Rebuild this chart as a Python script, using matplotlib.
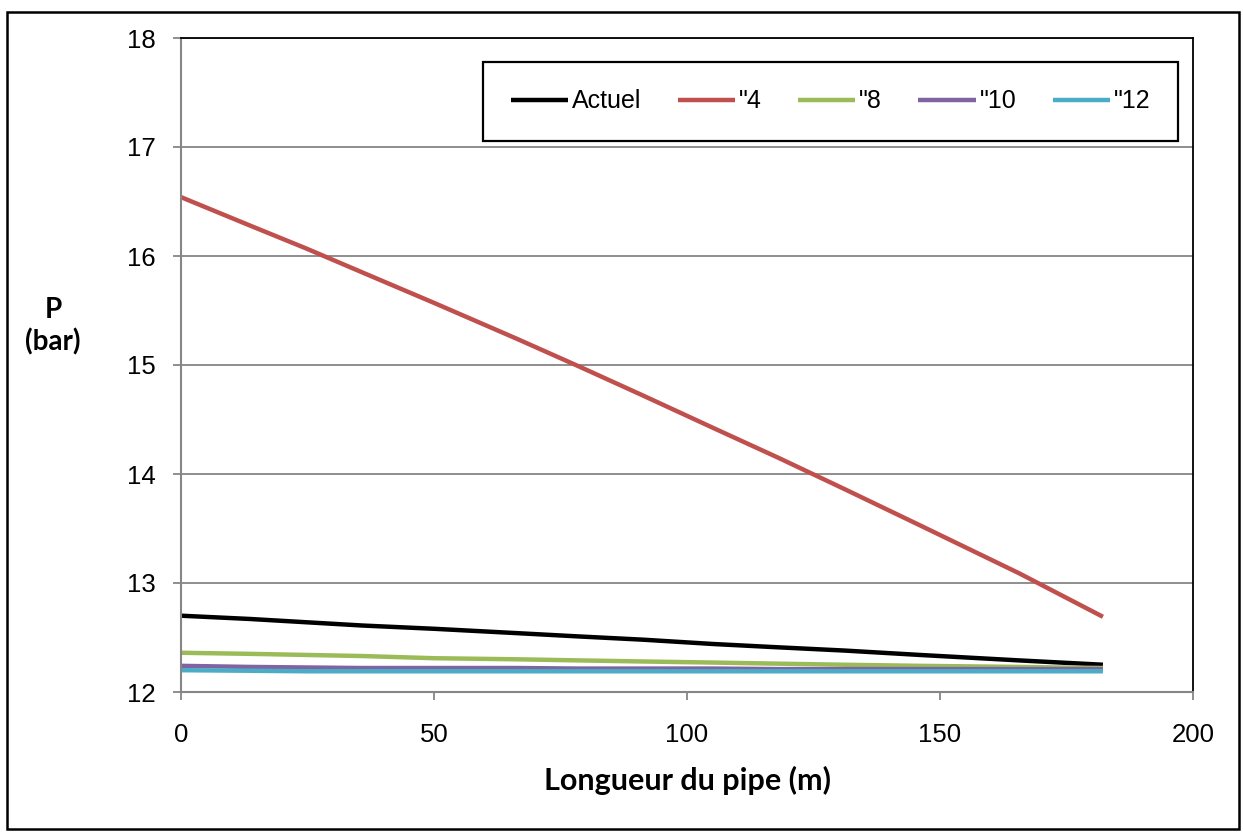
import matplotlib
matplotlib.use("Agg")
import matplotlib.pyplot as plt
from matplotlib.patches import Rectangle

# Pipe length stations (m)
longueur = [0, 13.6, 24.7, 35.8, 50, 66.4, 78.5, 91.3, 105.3, 118, 131.2, 146, 165.6, 182.2]

# Pressure along the pipe (bar) for each diameter
p_actuel = [12.70, 12.67, 12.64, 12.61, 12.58, 12.54, 12.51, 12.48, 12.44, 12.41, 12.38, 12.34, 12.29, 12.25]
p_4 = [16.54, 16.28, 16.07, 15.85, 15.57, 15.24, 14.99, 14.72, 14.42, 14.15, 13.86, 13.53, 13.09, 12.69]
p_8 = [12.36, 12.35, 12.34, 12.33, 12.31, 12.30, 12.29, 12.28, 12.27, 12.26, 12.25, 12.24, 12.23, 12.22]
p_10 = [12.24, 12.23, 12.225, 12.22, 12.22, 12.22, 12.215, 12.215, 12.215, 12.21, 12.21, 12.21, 12.21, 12.21]
p_12 = [12.20, 12.195, 12.19, 12.19, 12.19, 12.19, 12.19, 12.19, 12.19, 12.19, 12.19, 12.19, 12.19, 12.19]

labels = ["Actuel", '"4', '"8', '"10', '"12']
colors = ["#000000", "#C0504D", "#9BBB59", "#8064A2", "#4BACC6"]
series = [p_actuel, p_4, p_8, p_10, p_12]

x_ticks = [0, 50, 100, 150, 200]
y_ticks = [12, 13, 14, 15, 16, 17, 18]

plt.rcParams["font.family"] = ["Liberation Sans", "DejaVu Sans"]

W, H = 1243, 835
fig = plt.figure(figsize=(W / 100, H / 100), dpi=100)

# outer chart frame
fig.patches.append(Rectangle((7 / W, 6 / H), (1239 - 7) / W, (823 - 6) / H,
                             transform=fig.transFigure, fill=False,
                             edgecolor="black", linewidth=1.8, zorder=0))

ax = fig.add_axes([181 / W, (H - 692) / H, (1193 - 181) / W, (692 - 38) / H])

lines = []
for vals, lab, col in zip(series, labels, colors):
    ln, = ax.plot(longueur, vals, color=col, linewidth=3.2, label=lab,
                  solid_capstyle="butt", solid_joinstyle="round")
    lines.append(ln)

ax.set_xlim(0, 200)
ax.set_ylim(12, 18)
ax.set_xticks(x_ticks)
ax.set_yticks(y_ticks)
ax.set_xticklabels([str(v) for v in x_ticks])
ax.set_yticklabels([str(v) for v in y_ticks])

ax.yaxis.grid(True, color="#868686", linewidth=1.3)
ax.set_axisbelow(True)

for side in ["left", "bottom"]:
    ax.spines[side].set_color("#868686")
    ax.spines[side].set_linewidth(1.5)
for side in ["top", "right"]:
    ax.spines[side].set_color("black")
    ax.spines[side].set_linewidth(1.3)

ax.tick_params(axis="both", direction="out", length=6, width=1.3,
               color="#868686", labelsize=18.5, labelcolor="black")
ax.tick_params(axis="x", pad=16)
ax.tick_params(axis="y", pad=12)

ax.set_xlabel("Longueur du pipe (m)", fontsize=22, fontweight="bold",
              family=["Lato", "DejaVu Sans"], labelpad=14)
fig.text(53 / W, 1 - 326 / H, "P\n(bar)", fontsize=20, fontweight="bold",
         family=["Lato", "DejaVu Sans"], ha="center", va="center",
         linespacing=1.25)

# legend box
lx0, ly0, lx1, ly1 = 483, 62, 1178, 141
fig.patches.append(Rectangle((lx0 / W, 1 - ly1 / H), (lx1 - lx0) / W, (ly1 - ly0) / H,
                             transform=fig.transFigure, facecolor="white",
                             edgecolor="black", linewidth=1.6, zorder=5))
leg = fig.legend(handles=lines, labels=labels, ncol=5, frameon=False,
                 loc="center", bbox_to_anchor=((lx0 + lx1) / 2 / W, 1 - (ly0 + ly1) / 2 / H),
                 bbox_transform=fig.transFigure,
                 prop={"family": ["Liberation Sans"], "size": 18},
                 handlelength=2.3, handletextpad=0.15, columnspacing=1.45)
leg.set_zorder(6)
for h in leg.legend_handles:
    h.set_linewidth(3.2)

fig.savefig("out.png", dpi=100)
